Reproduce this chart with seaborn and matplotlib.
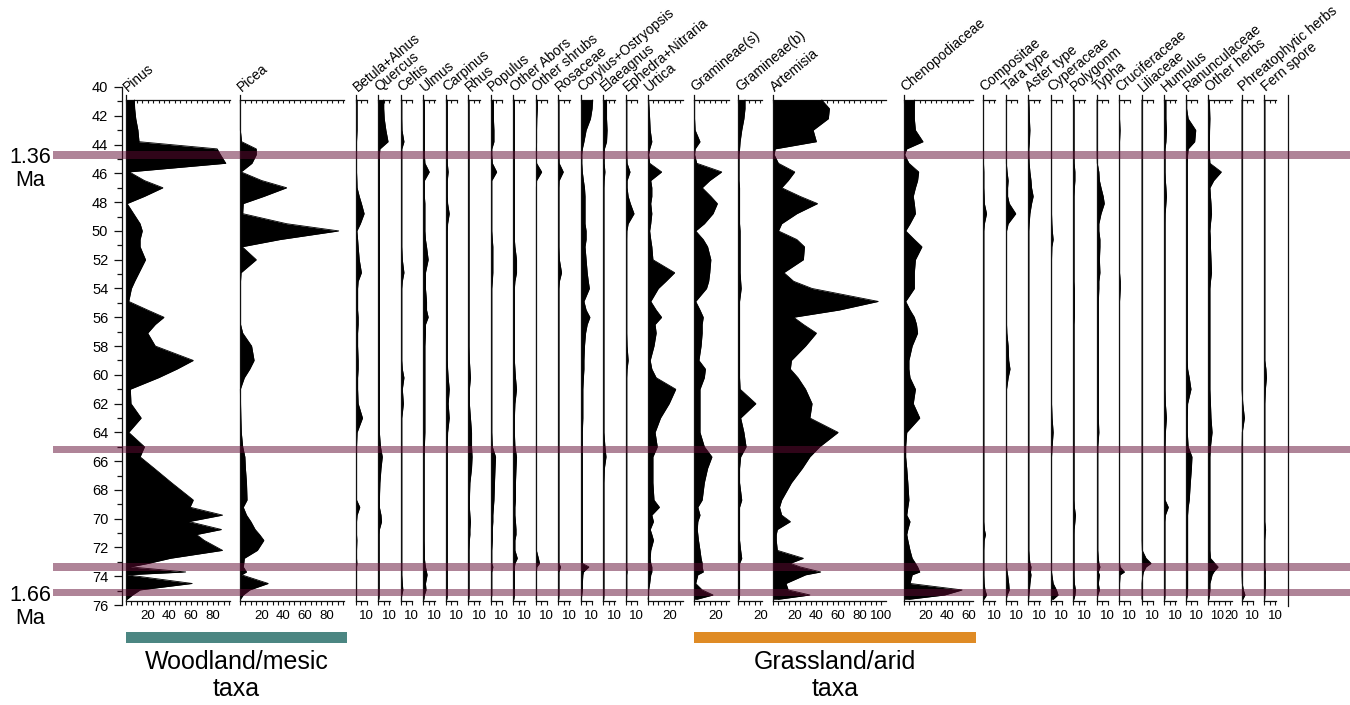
import numpy as np
import pandas as pd
import matplotlib
matplotlib.use("Agg")
import matplotlib.pyplot as plt
import matplotlib.transforms as mtransforms
from matplotlib.patches import Rectangle
from matplotlib.ticker import MultipleLocator
import seaborn as sns

# ---------------------------------------------------------------- data
# sample depths (m)
DEPTH = [
    40.9, 41.5, 42.2, 43.0, 43.8, 44.3, 44.7, 45.3, 45.9, 46.5,
    47.0, 47.6, 48.1, 48.8, 49.5, 50.0, 50.6, 51.1, 52.0, 52.9,
    53.5, 54.0, 54.9, 55.5, 56.0, 56.5, 57.1, 58.0, 59.0, 59.6,
    60.2, 61.0, 62.0, 63.0, 64.0, 65.0, 65.7, 66.5, 67.5, 68.7,
    69.2, 69.75, 70.2, 70.75, 71.1, 71.5, 72.2, 72.75, 73.1, 73.35,
    73.7, 73.9, 74.5, 74.95, 75.3, 75.6]

# pollen percentages per taxon
PINUS = [
    7.7, 8, 9, 11, 12, 84, 87, 92, 3, 17,
    34, 17, 1, 7, 13, 15, 13, 13, 18, 12,
    8, 5, 2.5, 20, 35, 27, 20, 27, 62, 47,
    30, 4, 4.6, 14, 2.5, 17, 13, 26, 42, 62,
    59, 89, 58, 88, 65, 72, 89, 41, 21, 4,
    55, 1, 61, 13, 6, 1]
PICEA = [
    0.3, 0.3, 0.3, 0.3, 1.5, 15, 15, 11, 1, 20,
    43, 22, 3, 2.5, 43, 91, 37, 2, 15, 1,
    0.5, 0.5, 0.5, 0.5, 0.5, 0.5, 2.5, 10.7, 13, 9,
    4, 0.3, 0.5, 0.8, 1.2, 2.5, 4.5, 5, 6, 6.5,
    3, 6, 10, 14, 18, 22, 16, 4, 3.5, 3,
    6, 1.5, 26, 9, 3, 0.3]
BETULA_ALNUS = [
    1, 1, 1, 1, 0.5, 0.5, 0.5, 0.5, 0.5, 0.8,
    1, 3, 5, 7.5, 4, 0.8, 1.5, 2, 3, 5,
    2, 1.5, 1.5, 1.5, 2, 2, 1.5, 1.5, 2, 2,
    1.5, 1.5, 2, 6, 1, 0.5, 0.5, 0.5, 0.5, 0.5,
    3.5, 1, 0.5, 0.5, 0.5, 0.8, 0.5, 0.5, 0.8, 0.5,
    0.5, 0.5, 0.5, 0.5, 0.5, 0.3]
QUERCUS = [
    5, 5, 5.5, 7, 9, 1.5, 1, 1, 1, 1,
    1, 1, 1, 1, 1, 1, 1, 1, 1, 1,
    1, 1, 1, 1, 1, 1, 1, 1, 1, 1,
    1, 1, 1, 1, 1, 2, 3.7, 2.5, 1.5, 1,
    1, 2.5, 3, 1, 0.8, 0.8, 0.8, 0.8, 0.8, 0.8,
    0.8, 0.8, 0.8, 0.8, 0.8, 0.5]
CELTIS = [
    1, 1, 1, 1.2, 3, 1, 1, 1, 1, 1,
    1, 1, 1, 1, 1, 1, 1, 1, 1.5, 3,
    1.5, 1, 1, 1, 1, 1, 1, 1, 1, 1.5,
    3, 1.5, 2.5, 1, 1, 1, 1, 1, 1, 1,
    1, 1, 1, 1, 1, 1, 1, 1, 1, 1,
    1, 1, 1.5, 2, 1, 0.5]
ULMUS = [
    1, 1, 1, 1, 1, 1, 1, 1.5, 5.5, 1,
    1, 1, 1.5, 1.5, 1.5, 1.5, 2, 3, 4.5, 2,
    2, 2, 3, 3, 4.5, 2, 2, 1.5, 1.5, 1.5,
    1.5, 1.5, 1.5, 1.5, 1.5, 1, 0.8, 0.8, 0.8, 0.8,
    0.8, 0.8, 0.8, 0.8, 0.8, 0.8, 1, 1, 1.5, 2,
    3, 3.5, 2, 2.5, 1, 0.5]
CARPINUS = [
    1.2, 1.2, 1.2, 1.2, 1.2, 1.2, 1.2, 1.2, 2, 1.2,
    1.2, 1.2, 1.5, 3, 1.5, 1.2, 1.2, 1.2, 1.2, 1.2,
    1.2, 1.2, 1.2, 1.2, 1.2, 1.2, 1.2, 1.2, 1.2, 1.5,
    2, 3, 2, 3, 1.5, 1.2, 1.2, 1.2, 1.2, 1.2,
    1.2, 1.2, 1.2, 1.2, 1.2, 1.2, 1.2, 1.2, 1.2, 1.2,
    1.2, 1.2, 1.2, 1.2, 1.2, 0.8]
RHUS = [
    0.7, 0.7, 0.7, 0.7, 0.7, 0.7, 0.7, 0.7, 0.7, 0.7,
    0.7, 0.7, 0.7, 0.7, 0.7, 0.7, 0.7, 0.7, 0.7, 0.7,
    0.7, 0.7, 0.7, 0.7, 0.7, 0.7, 0.7, 0.7, 1, 1.5,
    2, 1, 1, 2, 3, 3, 3.5, 3, 1.5, 1,
    1, 1.5, 2, 1.5, 1.5, 1, 0.7, 0.7, 0.7, 0.7,
    0.7, 0.7, 0.7, 0.7, 0.7, 0.5]
POPULUS = [
    2.5, 2.5, 2.5, 3, 3, 1, 1, 1.5, 5.5, 1,
    1, 1, 1, 1, 1, 1, 1.5, 2, 2, 2,
    1.5, 1, 1, 1, 1, 1, 1, 1, 1, 1,
    1, 1, 1, 1, 1, 1.5, 4.5, 4, 3.5, 3,
    2.5, 2, 2, 1.5, 1.5, 1.5, 1, 1, 1, 2,
    1, 1, 1, 1, 1, 0.5]
OTHER_ARBORS = [
    1, 1, 1, 1, 1, 1, 1, 1, 1, 1,
    1, 1, 1, 1, 1, 1, 1, 1.5, 3, 3,
    1.5, 1, 1, 1, 1, 1, 1, 1, 1, 1.5,
    2, 3, 1.5, 1, 1, 1.5, 3, 2.5, 2, 2,
    1.5, 1.5, 2, 2.5, 2.5, 1.5, 1.5, 3.7, 1.5, 1,
    1, 1, 1, 1, 1, 0.5]
OTHER_SHRUBS = [
    1.5, 1.5, 1, 0.8, 0.8, 0.6, 0.6, 0.8, 5.5, 0.8,
    0.6, 0.6, 0.6, 0.6, 0.6, 0.6, 0.6, 0.6, 0.6, 0.6,
    0.6, 0.6, 0.6, 0.6, 0.6, 0.6, 0.6, 0.6, 0.6, 0.6,
    0.6, 0.6, 0.6, 0.6, 0.6, 0.6, 0.6, 0.6, 0.6, 0.6,
    0.6, 0.6, 0.6, 0.6, 0.6, 0.6, 0.6, 2.5, 3.5, 1,
    0.6, 0.6, 0.6, 0.6, 0.6, 0.4]
ROSACEAE = [
    0.6, 0.6, 0.6, 0.6, 0.6, 0.6, 0.6, 0.8, 4.6, 0.8,
    0.6, 0.6, 0.6, 0.6, 0.6, 0.6, 0.6, 0.6, 1, 3,
    1, 0.6, 0.6, 0.6, 0.6, 0.6, 0.6, 0.6, 0.6, 0.6,
    0.6, 0.6, 0.6, 0.6, 0.6, 0.6, 0.6, 0.6, 0.6, 0.6,
    0.6, 0.6, 0.6, 0.6, 0.6, 0.6, 0.6, 0.6, 0.6, 2,
    0.6, 0.6, 0.6, 0.6, 0.6, 0.4]
CORYLUS_OSTRYOPSIS = [
    11, 10.5, 9, 5, 3, 1.5, 1, 1, 1.5, 2.5,
    3.5, 4, 4, 4, 4, 5, 5, 4, 5, 6,
    7, 8, 3, 5, 8.5, 6, 4.5, 3.5, 3, 3,
    2.5, 2, 2, 2, 1.5, 1.5, 1.5, 1.5, 1.5, 1.5,
    1.5, 1.5, 1.5, 1.5, 1.5, 1.5, 1.5, 1.5, 1.5, 7.5,
    2.5, 2, 1.5, 1.5, 1, 0.5]
ELAEAGNUS = [
    3, 3, 3, 3.5, 3, 1, 0.8, 0.8, 1.5, 0.8,
    0.6, 0.6, 0.6, 0.6, 0.6, 0.6, 0.6, 0.6, 0.6, 0.6,
    0.6, 0.6, 0.6, 0.6, 0.6, 0.6, 0.6, 0.6, 0.6, 0.6,
    0.6, 0.6, 0.6, 0.6, 0.6, 1.5, 2.5, 1, 0.6, 0.6,
    0.6, 0.6, 0.6, 0.6, 0.6, 0.6, 0.6, 0.6, 0.6, 0.6,
    0.6, 0.6, 0.6, 0.6, 0.6, 0.4]
EPHEDRA_NITRARIA = [
    0.7, 0.7, 0.7, 0.7, 0.7, 0.7, 0.7, 1, 3.7, 1,
    1, 2, 4, 7.4, 2, 0.8, 0.7, 0.7, 0.7, 0.7,
    0.7, 0.7, 0.7, 0.7, 0.7, 0.7, 0.7, 1, 2, 1,
    0.7, 0.7, 0.7, 0.7, 0.7, 0.7, 0.7, 0.7, 0.7, 0.7,
    0.7, 0.7, 0.7, 0.7, 0.7, 0.7, 0.7, 0.7, 0.7, 0.7,
    1, 0.7, 0.7, 0.7, 0.7, 0.4]
URTICA = [
    1, 1.5, 2, 2.5, 4, 2, 1, 2, 13, 3,
    4, 4, 3, 4, 3, 2, 3, 4, 5, 25,
    17, 10, 3, 8, 13, 7, 8, 6, 2.5, 4,
    8, 26, 20, 12, 7, 9, 5, 5, 5, 6,
    11, 4, 5.5, 2.5, 4, 5.5, 3, 2.5, 3, 4,
    4, 3, 2, 1, 1, 0.5]
GRAMINEAE_S = [
    1, 1, 1, 1.5, 6, 1.5, 1, 3, 26, 15,
    8, 16, 22, 18, 10, 2, 9, 13, 16, 15,
    14, 12, 2, 6, 9, 8, 8, 7, 5, 11,
    10, 6, 6, 6, 6, 10, 17, 13, 10, 8,
    4, 6, 4, 3.5, 4, 4.6, 6, 7, 8, 8,
    9, 4, 2, 8, 18, 3]
GRAMINEAE_B = [
    6, 6, 5, 3, 1.5, 1, 0.5, 0.5, 0.5, 0.5,
    1, 1, 1, 1, 1, 1.5, 1.5, 1.5, 1.5, 1.5,
    2, 2.5, 1, 1, 1, 1, 1, 1, 1, 1,
    1, 1.5, 16, 2, 5, 7, 2, 1, 1, 3,
    1, 1, 1, 1, 1, 1, 2, 3, 1, 1,
    1, 1, 1, 1, 1, 0.5]
ARTEMISIA = [
    45, 52, 51, 37, 40, 2, 1, 5, 20, 14,
    8, 25, 41, 22, 8, 5, 22, 29, 28, 10,
    19, 36, 97, 61, 19, 28, 40, 30, 17, 16,
    23, 30, 36, 34, 60, 43, 34, 27, 17, 8,
    6, 8, 16, 4, 3, 3, 4, 28, 16, 25,
    44, 30, 12, 14, 34, 5]
CHENOPODIACEAE = [
    10, 10, 10, 11, 18, 3, 1, 5, 14, 13,
    11, 9, 10, 11, 6, 2, 10, 17, 11, 10,
    10, 10, 2, 6, 10, 12, 13, 8, 5, 5,
    6, 11, 9, 15, 3, 2, 2, 3, 4, 5,
    4, 3, 6, 4, 3, 4, 6, 8, 11, 13,
    15, 8, 6, 54, 38, 5]
COMPOSITAE = [
    0.2, 0.2, 0.2, 0.2, 0.2, 0.2, 0.2, 0.2, 0.5, 0.5,
    0.5, 0.8, 1, 3, 1, 0.5, 0.5, 0.5, 0.5, 0.5,
    0.5, 0.5, 0.5, 0.5, 0.5, 0.5, 0.5, 0.5, 0.5, 0.5,
    0.5, 0.5, 0.5, 0.5, 0.5, 0.5, 0.5, 0.5, 0.5, 0.5,
    0.5, 0.5, 0.5, 1, 2, 0.8, 0.5, 0.5, 0.5, 0.5,
    0.5, 0.5, 0.8, 1.5, 3, 0.5]
TARA_TYPE = [
    0.3, 0.3, 0.3, 0.3, 0.3, 0.3, 0.3, 0.3, 1, 2,
    1.5, 1.5, 3, 9, 2, 0.5, 0.5, 0.5, 0.5, 0.5,
    0.5, 0.5, 0.5, 0.5, 0.5, 0.5, 0.8, 2, 2.5, 3.7,
    2, 0.5, 0.5, 0.5, 0.5, 0.5, 0.5, 0.5, 0.5, 0.5,
    0.5, 0.5, 0.5, 0.5, 0.5, 0.5, 0.5, 0.5, 0.5, 0.5,
    1, 1.5, 2.5, 3, 1, 0.3]
ASTER_TYPE = [
    0.5, 0.8, 1, 1.5, 1, 0.5, 0.5, 0.8, 1.5, 2.5,
    3, 4.5, 3, 1.5, 0.8, 0.5, 0.5, 0.5, 0.5, 0.5,
    0.5, 0.5, 0.5, 0.5, 0.5, 0.5, 0.5, 0.5, 0.5, 0.5,
    0.5, 0.5, 0.5, 0.5, 0.5, 0.5, 0.5, 0.5, 0.5, 0.5,
    0.5, 0.5, 0.5, 0.5, 0.5, 0.5, 0.5, 1, 1.5, 2.5,
    2, 2.5, 1.5, 1, 0.5, 0.3]
CYPERACEAE = [
    0.5, 0.5, 0.5, 0.5, 0.5, 0.5, 0.5, 0.5, 0.5, 0.5,
    0.5, 0.5, 0.5, 0.5, 0.8, 1.2, 2, 0.8, 0.5, 0.5,
    0.5, 0.5, 0.5, 0.5, 0.5, 0.5, 0.5, 0.5, 0.5, 0.5,
    0.5, 0.5, 0.5, 1, 2, 1, 0.5, 0.5, 0.5, 0.5,
    0.5, 0.5, 0.5, 0.5, 0.5, 0.5, 0.5, 0.5, 0.5, 0.5,
    0.5, 0.8, 2, 5, 6.5, 2]
POLYGONM = [
    0.7, 0.7, 0.7, 0.7, 0.7, 0.7, 0.7, 0.8, 1.5, 1.5,
    1, 0.7, 0.7, 0.7, 0.7, 0.7, 0.7, 0.7, 0.7, 0.7,
    0.7, 1, 1, 1, 1, 0.7, 0.7, 0.7, 0.7, 0.7,
    0.7, 0.7, 0.7, 0.7, 0.7, 0.7, 0.7, 0.7, 0.7, 0.7,
    1, 2, 1.5, 0.8, 0.7, 0.7, 0.7, 0.7, 0.7, 0.7,
    0.7, 0.7, 1, 2, 1.5, 0.5]
TYPHA = [
    0.3, 0.3, 0.3, 0.3, 0.3, 0.3, 0.3, 0.5, 2, 2.5,
    4, 6, 7, 4, 2, 2, 3, 3, 2.5, 3,
    2, 2, 1.5, 1.5, 1.5, 1.5, 1.5, 1.5, 1.5, 1.5,
    1.5, 1.5, 1.5, 1.5, 2, 1, 1, 1, 1, 1,
    1, 1, 1, 1, 1, 1, 1, 1.5, 2, 3,
    1.5, 2.5, 1.5, 2.5, 1, 0.5]
CRUCIFERACEAE = [
    0.5, 0.5, 0.5, 1, 0.5, 0.5, 0.5, 0.5, 0.5, 0.5,
    0.5, 0.5, 0.5, 0.5, 0.5, 0.5, 0.5, 0.5, 0.5, 0.5,
    1.2, 1.2, 0.5, 0.5, 0.5, 0.5, 0.5, 0.5, 0.5, 0.5,
    0.5, 0.5, 0.5, 0.5, 0.5, 0.5, 0.5, 0.5, 0.5, 0.5,
    0.5, 0.5, 0.5, 0.5, 0.5, 0.5, 0.5, 0.5, 0.5, 1,
    5, 1, 0.5, 0.5, 0.5, 0.3]
LILIACEAE = [
    0.2, 0.2, 0.2, 0.2, 0.2, 0.2, 0.2, 0.2, 0.2, 0.2,
    0.2, 0.2, 0.2, 0.2, 0.2, 0.2, 0.2, 0.2, 0.2, 0.2,
    0.2, 0.2, 0.2, 0.2, 0.2, 0.2, 0.2, 0.2, 0.2, 0.2,
    0.2, 0.2, 0.2, 0.2, 0.2, 0.2, 0.2, 0.2, 0.2, 0.2,
    0.2, 0.2, 0.2, 0.2, 0.2, 0.2, 0.5, 4, 8.6, 4,
    1.5, 1, 0.2, 0.2, 0.2, 0.2]
HUMULUS = [
    1.5, 1.5, 1.5, 2, 1.5, 0.7, 0.7, 0.7, 0.7, 1,
    1.5, 2, 1.5, 0.8, 0.7, 0.7, 0.7, 0.7, 0.7, 0.7,
    0.7, 0.7, 0.7, 0.7, 0.7, 0.7, 0.7, 0.7, 0.7, 0.7,
    0.7, 0.7, 1, 2, 1, 0.7, 0.7, 0.7, 0.7, 0.7,
    3.7, 1, 0.6, 0.6, 0.6, 0.6, 0.6, 0.6, 0.6, 0.6,
    0.6, 0.6, 0.6, 0.6, 0.6, 0.4]
RANUNCULACEAE = [
    0.6, 0.6, 2, 9, 8, 2, 1.5, 1.2, 1.2, 1.2,
    1.2, 1.2, 1.2, 1.2, 1.2, 1.2, 1.2, 1.2, 1.2, 1.2,
    1.2, 1.2, 1.2, 1.2, 1.2, 1.2, 1.2, 1.2, 1.2, 1.5,
    3, 4.6, 1.5, 1.2, 1.2, 2, 5.5, 5, 4, 3,
    2, 1.5, 1.5, 1.5, 1.5, 1.5, 1.5, 1.5, 1.5, 1.5,
    1.5, 1.5, 1.5, 1.5, 1.2, 0.5]
OTHER_HERBS = [
    1, 1.2, 1.5, 1.2, 1, 1, 1, 1.5, 12, 5,
    1.5, 2, 2.5, 3, 2, 1.5, 2, 2, 2.5, 3,
    2, 1.5, 1.5, 1.5, 1.5, 1.5, 1.5, 1.5, 1.5, 1.5,
    1.5, 1.5, 2, 2.5, 3.5, 2, 1.5, 1.5, 1.5, 1.5,
    1.5, 1.5, 1.5, 1.5, 1.5, 1.5, 1.5, 2, 6, 9,
    5, 3.5, 1.5, 1.5, 1, 0.5]
PHREATOPHYTIC_HERBS = [
    0.2, 0.2, 0.2, 0.2, 0.2, 0.2, 0.2, 0.2, 0.2, 0.2,
    0.2, 0.2, 0.2, 0.2, 0.2, 0.2, 0.2, 0.2, 0.2, 0.2,
    0.2, 0.2, 0.2, 0.2, 0.2, 0.2, 0.2, 0.2, 0.2, 0.2,
    0.2, 0.2, 1, 2.5, 0.5, 0.2, 0.2, 0.2, 0.2, 0.2,
    0.2, 0.2, 0.2, 0.2, 0.2, 0.2, 0.2, 0.2, 0.2, 0.2,
    0.2, 0.2, 0.5, 1.5, 3, 1]
FERN_SPORE = [
    0.5, 0.5, 0.5, 0.5, 0.5, 0.5, 0.5, 0.5, 0.5, 0.5,
    0.5, 0.5, 0.5, 0.5, 0.5, 0.5, 0.5, 0.5, 0.5, 0.5,
    0.5, 0.5, 0.5, 0.5, 0.5, 0.5, 0.5, 0.5, 0.5, 1.5,
    2, 1, 0.5, 0.5, 0.5, 0.5, 0.5, 0.5, 0.5, 0.5,
    0.5, 0.5, 0.5, 1.2, 0.8, 0.5, 0.5, 0.5, 0.5, 0.5,
    1, 0.8, 1, 0.8, 0.5, 0.3]

TAXA = [
    "Pinus", "Picea", "Betula+Alnus", "Quercus", "Celtis", "Ulmus",
    "Carpinus", "Rhus", "Populus", "Other Abors", "Other shrubs",
    "Rosaceae", "Corylus+Ostryopsis", "Elaeagnus", "Ephedra+Nitraria",
    "Urtica", "Gramineae(s)", "Gramineae(b)", "Artemisia",
    "Chenopodiaceae", "Compositae", "Tara type", "Aster type",
    "Cyperaceae", "Polygonm", "Typha", "Cruciferaceae", "Liliaceae",
    "Humulus", "Ranunculaceae", "Other herbs", "Phreatophytic herbs",
    "Fern spore"]
SERIES = [
    PINUS, PICEA, BETULA_ALNUS, QUERCUS, CELTIS, ULMUS, CARPINUS, RHUS,
    POPULUS, OTHER_ARBORS, OTHER_SHRUBS, ROSACEAE, CORYLUS_OSTRYOPSIS,
    ELAEAGNUS, EPHEDRA_NITRARIA, URTICA, GRAMINEAE_S, GRAMINEAE_B,
    ARTEMISIA, CHENOPODIACEAE, COMPOSITAE, TARA_TYPE, ASTER_TYPE,
    CYPERACEAE, POLYGONM, TYPHA, CRUCIFERACEAE, LILIACEAE, HUMULUS,
    RANUNCULACEAE, OTHER_HERBS, PHREATOPHYTIC_HERBS, FERN_SPORE]

# percentage scale of each panel (default 10.5) and the labelled ticks
AXIS_MAX = {"Pinus": 96, "Picea": 96, "Urtica": 33, "Gramineae(s)": 33,
            "Gramineae(b)": 22, "Artemisia": 104, "Chenopodiaceae": 64,
            "Other herbs": 22}
TICK_LABELS = {"Pinus": [20, 40, 60, 80], "Picea": [20, 40, 60, 80],
               "Urtica": [20], "Gramineae(s)": [20], "Gramineae(b)": [20],
               "Artemisia": [20, 40, 60, 80, 100],
               "Chenopodiaceae": [20, 40, 60], "Other herbs": [10, 20]}

# zone boundaries (depth, m) and their ages
BOUNDARY_DEPTHS = [44.72, 65.2, 73.37, 75.13]
AGE_LABELS = [("1.36", 44.72), ("1.66", 75.13)]

GROUPS = [("Woodland/mesic\ntaxa", "Pinus", "Picea", "#4B8682"),
          ("Grassland/arid\ntaxa", "Gramineae(s)", "Chenopodiaceae", "#DF8B25")]

# ---------------------------------------------------------------- layout
W, H, DPI = 1350, 705, 100
TOP_PX = 87.0          # pixel row of 40 m
PX_PER_M = 14.39
PX_PER_PCT = 1.085
PANEL_LEFT_PX = [
    126, 240, 356, 378.3, 400.7, 423.3, 446, 468.3, 490.7, 513.3, 535.7,
    558.3, 580.7, 603.3, 626, 647.5, 693.5, 738.5, 773, 903.5, 983.3,
    1006, 1028.3, 1051, 1073.3, 1096.7, 1119, 1141.7, 1164.3, 1186,
    1208.3, 1241.7, 1264.3]
TRAILING_FRAME_PX = 1287.7
PANEL_TOP, PANEL_BOTTOM, RULER_DEPTH = 40.55, 75.75, 40.9
INK = "#111111"


def ypx(d):
    return TOP_PX + (d - 40.0) * PX_PER_M


def box(left, top, right, bottom):
    return [left / W, 1 - bottom / H, (right - left) / W, (bottom - top) / H]


sns.set_theme(style="ticks", rc={
    "axes.edgecolor": INK, "axes.linewidth": 0.9,
    "xtick.color": INK, "ytick.color": INK,
    "text.color": "black", "xtick.labelcolor": "black",
    "ytick.labelcolor": "black"})
plt.rcParams["font.family"] = ["Liberation Sans", "DejaVu Sans"]

fig = plt.figure(figsize=(W / DPI, H / DPI), dpi=DPI)
fig.patch.set_facecolor("white")

df = pd.DataFrame({
    "taxon": np.repeat(TAXA, len(DEPTH)),
    "depth": np.tile(DEPTH, len(TAXA)),
    "pct": np.concatenate([np.asarray(s, float) for s in SERIES]),
})

# depth axis
axd = fig.add_axes(box(121.5, ypx(40), 122.5, ypx(76)))
axd.set_ylim(76, 40)
axd.set_xlim(0, 1)
axd.set_xticks([])
axd.patch.set_alpha(0)
for s in ("top", "right", "bottom"):
    axd.spines[s].set_visible(False)
axd.yaxis.set_major_locator(MultipleLocator(2))
axd.yaxis.set_minor_locator(MultipleLocator(1))
axd.tick_params(axis="y", which="major", length=6, width=0.9, pad=3.5,
                labelsize=10.5)
axd.tick_params(axis="y", which="minor", length=3.5, width=0.9)

label_shift = mtransforms.ScaledTranslation(1.5 / DPI, 3 / DPI,
                                            fig.dpi_scale_trans)
ruler_frac = (PANEL_BOTTOM - RULER_DEPTH) / (PANEL_BOTTOM - PANEL_TOP)

for name, left in zip(TAXA, PANEL_LEFT_PX):
    xmax = AXIS_MAX.get(name, 10.5)
    right = left + xmax * PX_PER_PCT
    ax = fig.add_axes(box(left, ypx(PANEL_TOP), right, ypx(PANEL_BOTTOM)))
    ax.patch.set_alpha(0)
    sub = df[df["taxon"] == name]
    ax.fill_betweenx(sub["depth"], 0, sub["pct"], color="black", lw=0,
                     clip_on=False)
    sns.lineplot(data=sub, x="pct", y="depth", orient="y", estimator=None,
                 color="black", lw=0.6, ax=ax, clip_on=False)
    ax.set(xlabel="", ylabel="")
    ax.set_xlim(0, xmax)
    ax.set_ylim(PANEL_BOTTOM, PANEL_TOP)
    ax.spines["top"].set_visible(False)
    ax.spines["right"].set_visible(False)
    ax.set_yticks([])
    ticks = list(range(0, int(xmax) + 1, 5))
    shown = TICK_LABELS.get(name, [10])
    ax.set_xticks(ticks)
    ax.set_xticklabels([str(t) if t in shown else "" for t in ticks])
    ax.tick_params(axis="x", length=3, width=0.8, pad=3.5, labelsize=9.5)
    if len(shown) > 1 and shown[1] - shown[0] < 15:
        # closely spaced labels: nudge them apart a little
        for t, lbl in zip(ticks, ax.get_xticklabels()):
            if t in shown:
                dx = (-1.8 if t == shown[0] else 1.8) / DPI
                lbl.set_transform(lbl.get_transform()
                                  + mtransforms.ScaledTranslation(
                                      dx, 0, fig.dpi_scale_trans))
                lbl.set_fontsize(9)
    # scale ruler along the top of the profile
    sec = ax.secondary_xaxis(ruler_frac)
    sec.set_xticks(ticks)
    sec.tick_params(axis="x", direction="in", length=2.5, width=0.8,
                    labeltop=False, labelbottom=False)
    for sp in sec.spines.values():
        sp.set_linewidth(0.9)
    ax.text(0, 1, name, transform=ax.transAxes + label_shift, rotation=40,
            rotation_mode="anchor", ha="left", va="baseline", fontsize=10,
            clip_on=False)

# trailing frame line
axt = fig.add_axes(box(TRAILING_FRAME_PX, 94.7, TRAILING_FRAME_PX + 1, 606))
axt.patch.set_alpha(0)
axt.set_xticks([])
axt.set_yticks([])
for s in ("top", "right", "bottom"):
    axt.spines[s].set_visible(False)

# zone boundaries drawn across the whole diagram
axb = fig.add_axes(box(53, ypx(40), W, ypx(76)), zorder=20)
axb.set_ylim(76, 40)
axb.set_xlim(0, 1)
axb.axis("off")
for d in BOUNDARY_DEPTHS:
    axb.axhspan(d - 0.26, d + 0.26, color="#600a32", alpha=0.5, lw=0)

for age, d in AGE_LABELS:
    yc = ypx(d) + 3
    fig.text(30 / W, 1 - yc / H, age, ha="center", va="center", fontsize=15.5)
    fig.text(30 / W, 1 - (yc + 23) / H, "Ma", ha="center", va="center",
             fontsize=15.5)

# ecological groups below the diagram
for label, first, last, color in GROUPS:
    x0 = PANEL_LEFT_PX[TAXA.index(first)]
    x1 = (PANEL_LEFT_PX[TAXA.index(last)]
          + AXIS_MAX.get(last, 10.5) * PX_PER_PCT + 3)
    fig.add_artist(Rectangle((x0 / W, 1 - 642.5 / H), (x1 - x0) / W, 11 / H,
                             transform=fig.transFigure, color=color, lw=0))
    fig.text((x0 + x1) / 2 / W, 1 - 650 / H, label, ha="center", va="top",
             fontsize=18, linespacing=1.15)

fig.savefig("out.png", dpi=DPI, facecolor="white")
